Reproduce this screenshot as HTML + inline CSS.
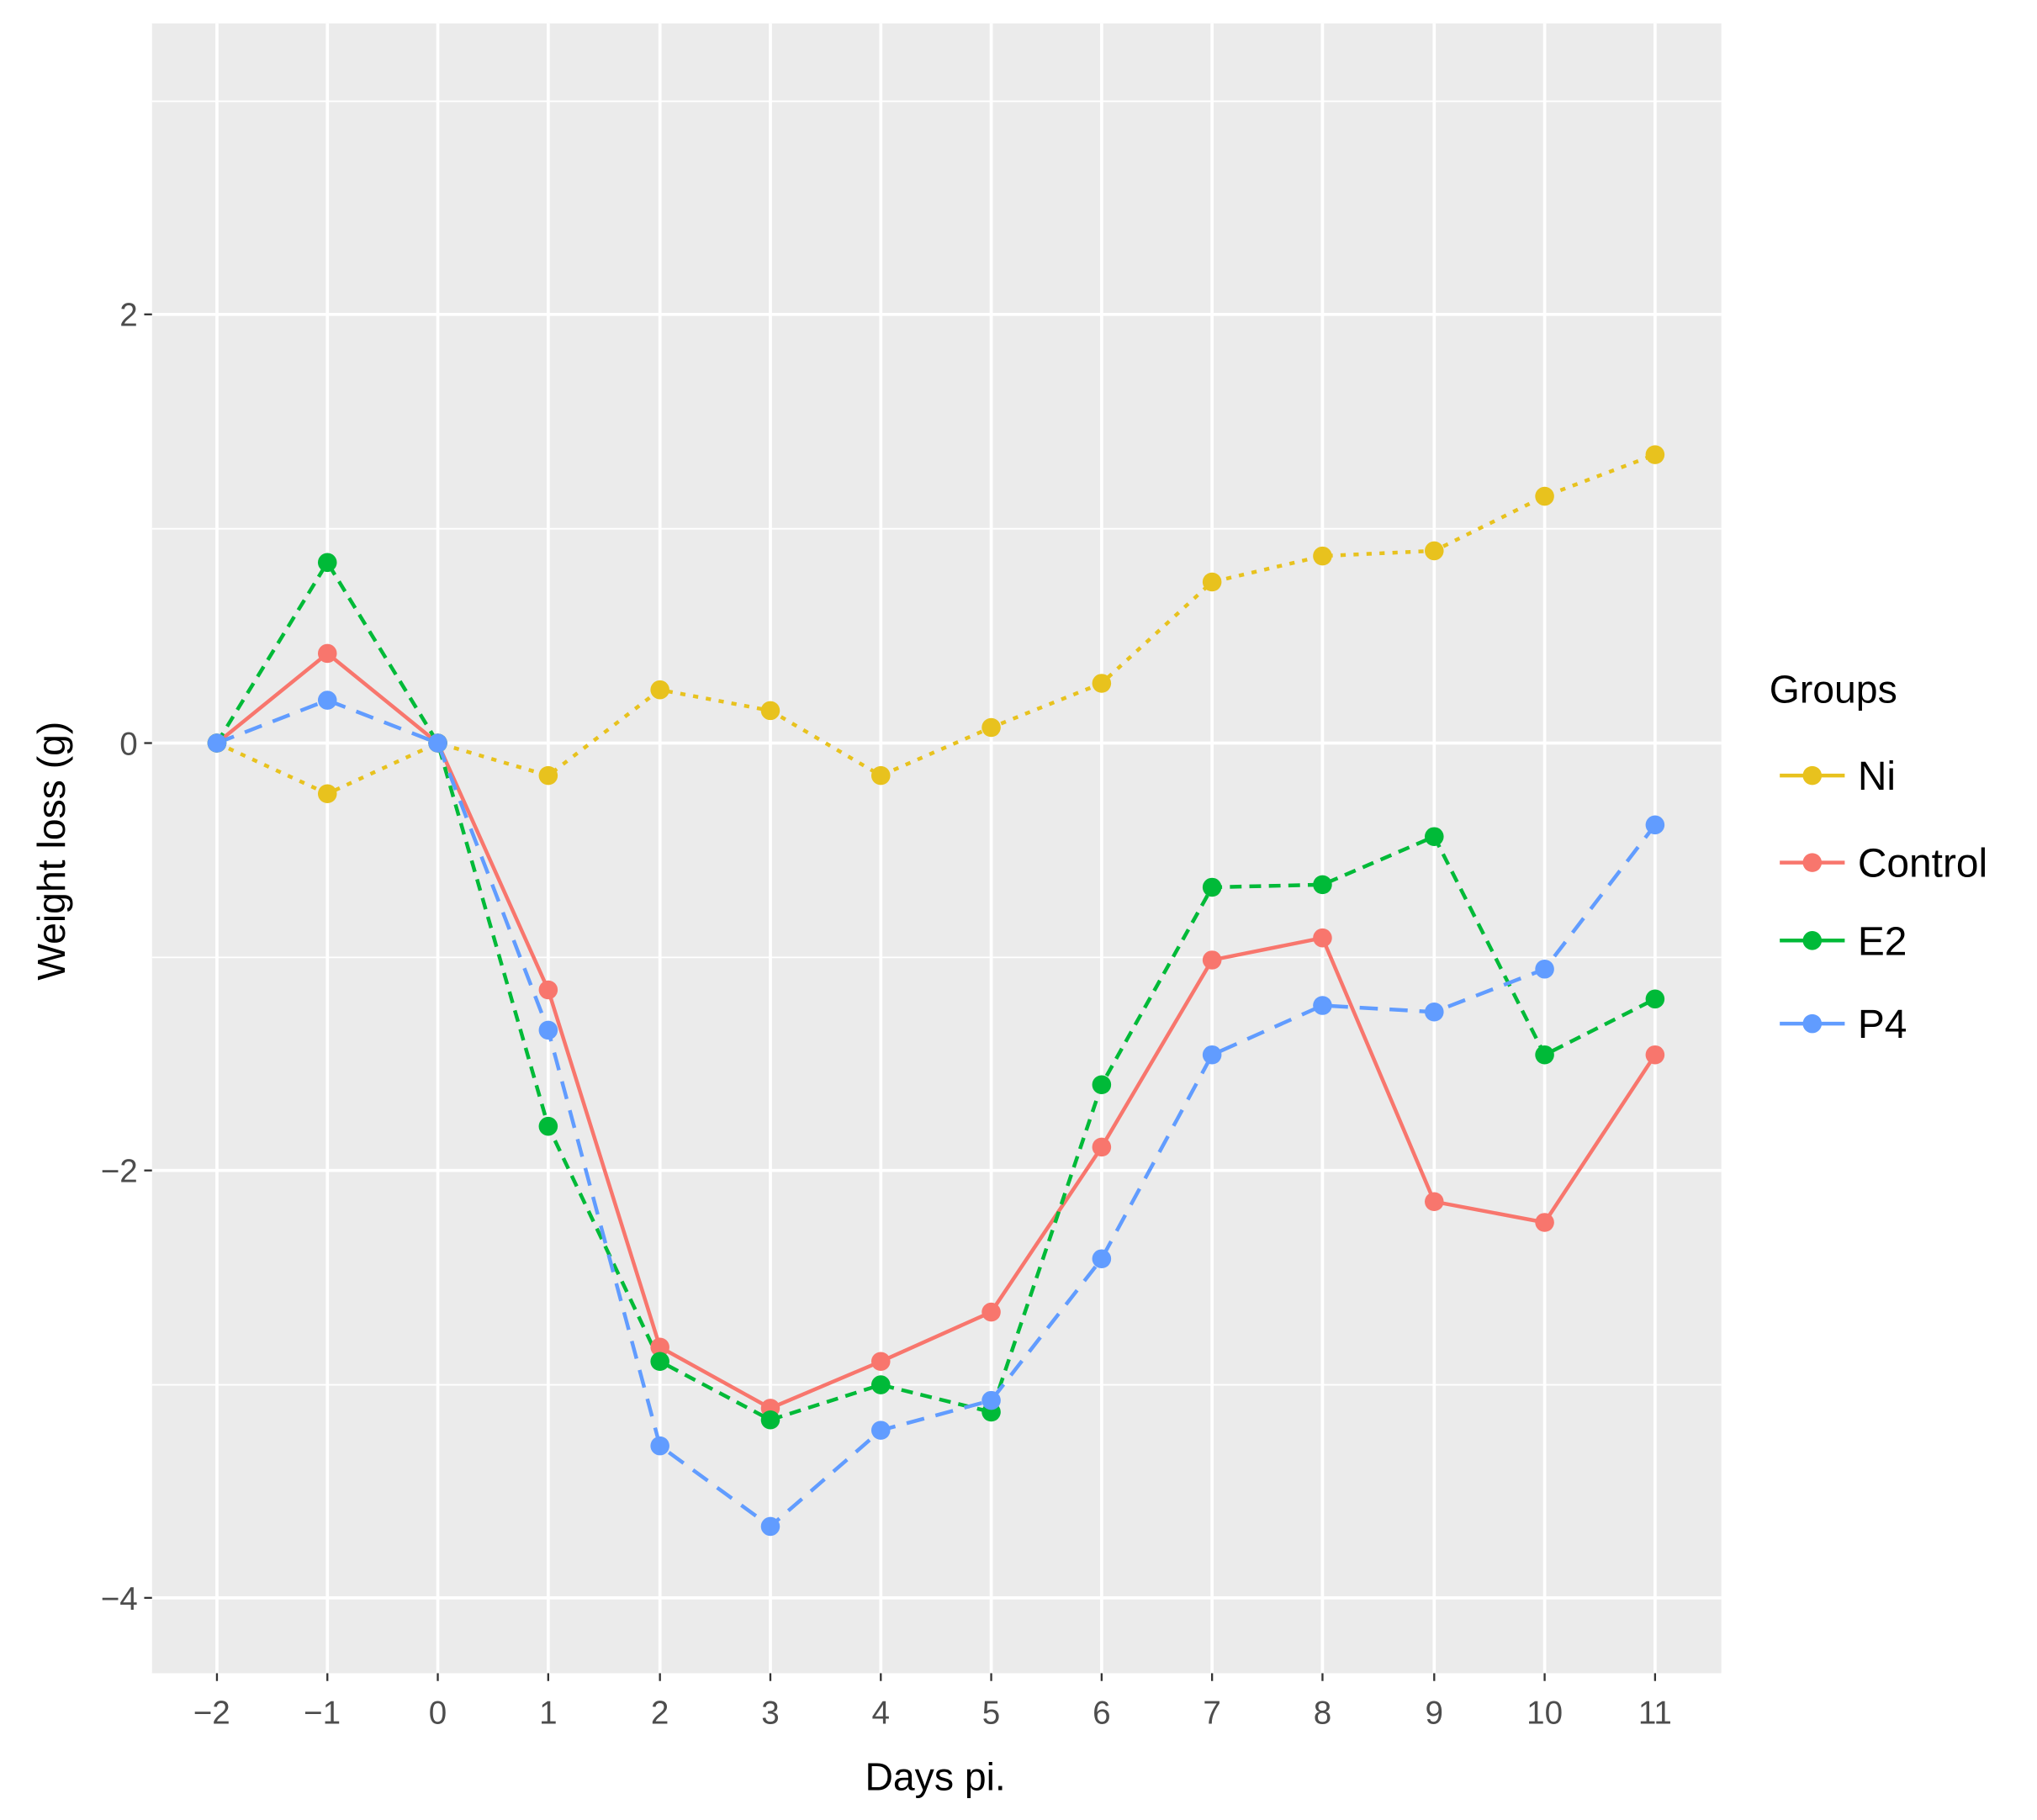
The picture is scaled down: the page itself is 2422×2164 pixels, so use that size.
<!DOCTYPE html>
<html><head><meta charset="utf-8"><style>html,body{margin:0;padding:0;background:#fff}svg{display:block}</style></head><body>
<svg width="2422" height="2164" viewBox="0 0 1568 1401" preserveAspectRatio="none" xmlns="http://www.w3.org/2000/svg" font-family="Liberation Sans, DejaVu Sans, sans-serif">
<rect x="117" y="18" width="1208" height="1270" fill="#ebebeb"/>
<g stroke="#fff" stroke-width="1.2">
<line x1="117" x2="1325" y1="78" y2="78"/><line x1="117" x2="1325" y1="407" y2="407"/><line x1="117" x2="1325" y1="737" y2="737"/><line x1="117" x2="1325" y1="1066" y2="1066"/>
</g>
<g stroke="#fff" stroke-width="2.4">
<line x1="117" x2="1325" y1="242" y2="242"/><line x1="117" x2="1325" y1="572" y2="572"/><line x1="117" x2="1325" y1="901" y2="901"/><line x1="117" x2="1325" y1="1230" y2="1230"/>
<line y1="18" y2="1288" x1="167" x2="167"/><line y1="18" y2="1288" x1="252" x2="252"/><line y1="18" y2="1288" x1="337" x2="337"/><line y1="18" y2="1288" x1="422" x2="422"/><line y1="18" y2="1288" x1="508" x2="508"/><line y1="18" y2="1288" x1="593" x2="593"/><line y1="18" y2="1288" x1="678" x2="678"/><line y1="18" y2="1288" x1="763" x2="763"/><line y1="18" y2="1288" x1="848" x2="848"/><line y1="18" y2="1288" x1="933" x2="933"/><line y1="18" y2="1288" x1="1018" x2="1018"/><line y1="18" y2="1288" x1="1104" x2="1104"/><line y1="18" y2="1288" x1="1189" x2="1189"/><line y1="18" y2="1288" x1="1274" x2="1274"/>
</g>
<g stroke="#333" stroke-width="1.5">
<line x1="111" x2="117" y1="242" y2="242"/><line x1="111" x2="117" y1="572" y2="572"/><line x1="111" x2="117" y1="901" y2="901"/><line x1="111" x2="117" y1="1230" y2="1230"/>
<line y1="1288" y2="1294" x1="167" x2="167"/><line y1="1288" y2="1294" x1="252" x2="252"/><line y1="1288" y2="1294" x1="337" x2="337"/><line y1="1288" y2="1294" x1="422" x2="422"/><line y1="1288" y2="1294" x1="508" x2="508"/><line y1="1288" y2="1294" x1="593" x2="593"/><line y1="1288" y2="1294" x1="678" x2="678"/><line y1="1288" y2="1294" x1="763" x2="763"/><line y1="1288" y2="1294" x1="848" x2="848"/><line y1="1288" y2="1294" x1="933" x2="933"/><line y1="1288" y2="1294" x1="1018" x2="1018"/><line y1="1288" y2="1294" x1="1104" x2="1104"/><line y1="1288" y2="1294" x1="1189" x2="1189"/><line y1="1288" y2="1294" x1="1274" x2="1274"/>
</g>
<g fill="#4d4d4d" font-size="25" text-anchor="end">
<text x="106" y="251">2</text><text x="106" y="581">0</text><text x="106" y="910">−2</text><text x="106" y="1239">−4</text>
</g>
<g fill="#4d4d4d" font-size="25" text-anchor="middle">
<text x="163" y="1327">−2</text><text x="248" y="1327">−1</text><text x="337" y="1327">0</text><text x="422" y="1327">1</text><text x="508" y="1327">2</text><text x="593" y="1327">3</text><text x="678" y="1327">4</text><text x="763" y="1327">5</text><text x="848" y="1327">6</text><text x="933" y="1327">7</text><text x="1018" y="1327">8</text><text x="1104" y="1327">9</text><text x="1189" y="1327">10</text><text x="1274" y="1327">11</text>
</g>
<text x="720" y="1378" font-size="30" text-anchor="middle" fill="#000">Days pi.</text>
<text transform="translate(50,655) rotate(-90)" font-size="30" text-anchor="middle" fill="#000">Weight loss (g)</text>
<g fill="none" stroke-width="2.9">
<polyline stroke="#E8C21E" stroke-dasharray="4,6" points="167,572 252,611 337,572 422,597 508,531 593,547 678,597 763,560 848,526 933,448 1018,428 1104,424 1189,382 1274,350"/>
<polyline stroke="#F8766D" points="167,572 252,503 337,572 422,762 508,1037 593,1084 678,1048 763,1010 848,883 933,739 1018,722 1104,925 1189,941 1274,812"/>
<polyline stroke="#00BA38" stroke-dasharray="9,6" points="167,572 252,433 337,572 422,867 508,1048 593,1093 678,1066 763,1087 848,835 933,683 1018,681 1104,644 1189,812 1274,769"/>
<polyline stroke="#619CFF" stroke-dasharray="14,9" points="167,572 252,539 337,572 422,793 508,1113 593,1175 678,1101 763,1078 848,969 933,812 1018,774 1104,779 1189,746 1274,635"/>
</g>
<g fill="#E8C21E"><circle cx="167" cy="572" r="7.3"/><circle cx="252" cy="611" r="7.3"/><circle cx="337" cy="572" r="7.3"/><circle cx="422" cy="597" r="7.3"/><circle cx="508" cy="531" r="7.3"/><circle cx="593" cy="547" r="7.3"/><circle cx="678" cy="597" r="7.3"/><circle cx="763" cy="560" r="7.3"/><circle cx="848" cy="526" r="7.3"/><circle cx="933" cy="448" r="7.3"/><circle cx="1018" cy="428" r="7.3"/><circle cx="1104" cy="424" r="7.3"/><circle cx="1189" cy="382" r="7.3"/><circle cx="1274" cy="350" r="7.3"/></g>
<g fill="#F8766D"><circle cx="167" cy="572" r="7.3"/><circle cx="252" cy="503" r="7.3"/><circle cx="337" cy="572" r="7.3"/><circle cx="422" cy="762" r="7.3"/><circle cx="508" cy="1037" r="7.3"/><circle cx="593" cy="1084" r="7.3"/><circle cx="678" cy="1048" r="7.3"/><circle cx="763" cy="1010" r="7.3"/><circle cx="848" cy="883" r="7.3"/><circle cx="933" cy="739" r="7.3"/><circle cx="1018" cy="722" r="7.3"/><circle cx="1104" cy="925" r="7.3"/><circle cx="1189" cy="941" r="7.3"/><circle cx="1274" cy="812" r="7.3"/></g>
<g fill="#00BA38"><circle cx="167" cy="572" r="7.3"/><circle cx="252" cy="433" r="7.3"/><circle cx="337" cy="572" r="7.3"/><circle cx="422" cy="867" r="7.3"/><circle cx="508" cy="1048" r="7.3"/><circle cx="593" cy="1093" r="7.3"/><circle cx="678" cy="1066" r="7.3"/><circle cx="763" cy="1087" r="7.3"/><circle cx="848" cy="835" r="7.3"/><circle cx="933" cy="683" r="7.3"/><circle cx="1018" cy="681" r="7.3"/><circle cx="1104" cy="644" r="7.3"/><circle cx="1189" cy="812" r="7.3"/><circle cx="1274" cy="769" r="7.3"/></g>
<g fill="#619CFF"><circle cx="167" cy="572" r="7.3"/><circle cx="252" cy="539" r="7.3"/><circle cx="337" cy="572" r="7.3"/><circle cx="422" cy="793" r="7.3"/><circle cx="508" cy="1113" r="7.3"/><circle cx="593" cy="1175" r="7.3"/><circle cx="678" cy="1101" r="7.3"/><circle cx="763" cy="1078" r="7.3"/><circle cx="848" cy="969" r="7.3"/><circle cx="933" cy="812" r="7.3"/><circle cx="1018" cy="774" r="7.3"/><circle cx="1104" cy="779" r="7.3"/><circle cx="1189" cy="746" r="7.3"/><circle cx="1274" cy="635" r="7.3"/></g>
<text x="1362" y="541" font-size="30" fill="#000">Groups</text>
<g stroke-width="2.9">
<line x1="1370" x2="1420" y1="597" y2="597" stroke="#E8C21E"/><circle cx="1395" cy="597" r="7.3" fill="#E8C21E"/>
<line x1="1370" x2="1420" y1="664" y2="664" stroke="#F8766D"/><circle cx="1395" cy="664" r="7.3" fill="#F8766D"/>
<line x1="1370" x2="1420" y1="724" y2="724" stroke="#00BA38"/><circle cx="1395" cy="724" r="7.3" fill="#00BA38"/>
<line x1="1370" x2="1420" y1="788" y2="788" stroke="#619CFF"/><circle cx="1395" cy="788" r="7.3" fill="#619CFF"/>
</g>
<g font-size="31" fill="#000"><text x="1430" y="608">Ni</text><text x="1430" y="675">Control</text><text x="1430" y="735">E2</text><text x="1430" y="799">P4</text></g>
</svg>
</body></html>
